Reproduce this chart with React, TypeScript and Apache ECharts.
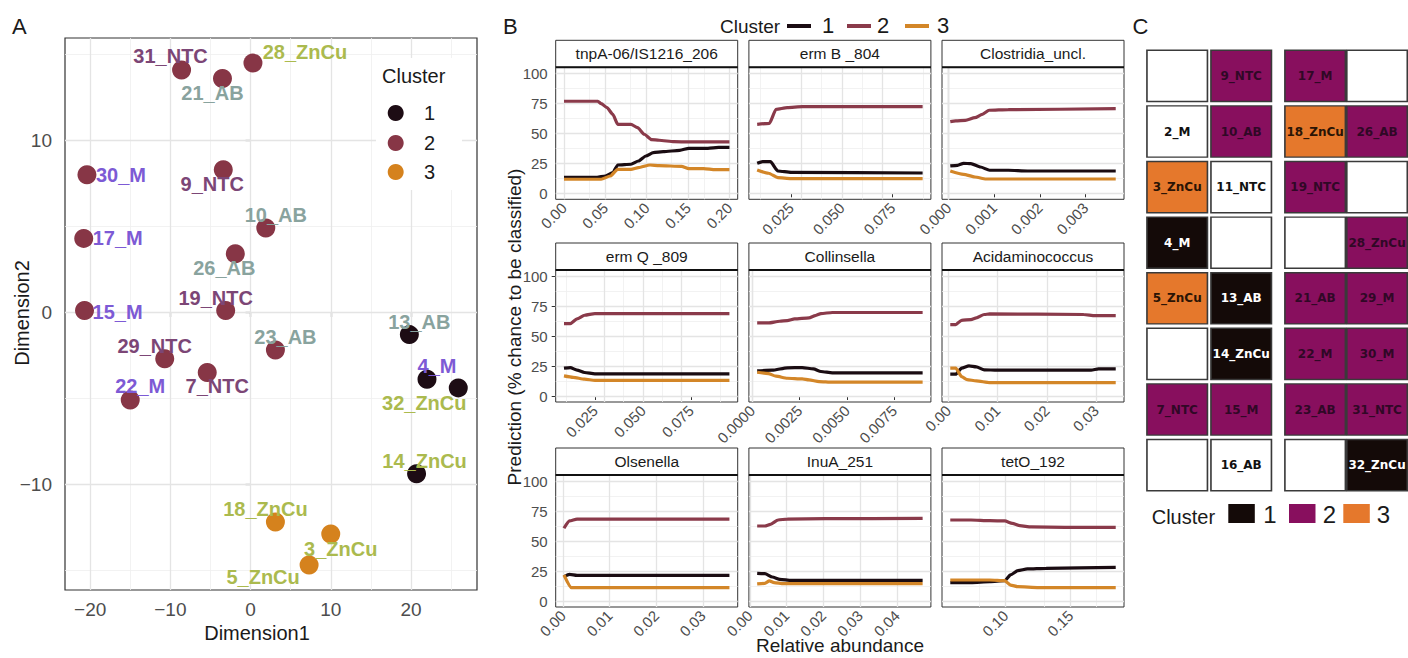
import React, { useEffect, useRef } from "react";
import * as echarts from "echarts";

// ---------------- Panel A data ----------------
const sampleNames = ["31_NTC", "21_AB", "28_ZnCu", "30_M", "9_NTC", "10_AB", "17_M", "26_AB", "15_M", "19_NTC", "13_AB", "23_AB", "29_NTC", "7_NTC", "4_M", "32_ZnCu", "22_M", "14_ZnCu", "18_ZnCu", "3_ZnCu", "5_ZnCu"];
const dim1 = [-8.6, -3.5, 0.3, -20.4, -3.4, 1.9, -20.8, -1.9, -20.7, -3.1, 19.8, 3.1, -10.7, -5.4, 22.0, 25.9, -15.0, 20.7, 3.1, 10.0, 7.3];
const dim2 = [14.1, 13.6, 14.5, 8.0, 8.3, 4.9, 4.3, 3.4, 0.1, 0.1, -1.3, -2.2, -2.7, -3.5, -3.9, -4.4, -5.1, -9.4, -12.2, -12.9, -14.7];
const sampleCluster = [2, 2, 2, 2, 2, 2, 2, 2, 2, 2, 1, 2, 2, 2, 1, 1, 2, 1, 3, 3, 3];
const dimTicksX = ["-20", "-10", "0", "10", "20"];
const dimTicksY = ["-10", "0", "10"];

// ---------------- Panel B data ----------------
const facetNames = ["tnpA-06/IS1216_206", "erm B _804", "Clostridia_uncl.", "erm Q _809", "Collinsella", "Acidaminococcus", "Olsenella", "InuA_251", "tetO_192"];

const tnpA_c1 = [[0, 13.3], [0.04, 13.3], [0.05, 14.4], [0.059, 17.2], [0.065, 23.6], [0.081, 24.2], [0.09, 26.9], [0.099, 31.1], [0.108, 33.9], [0.12, 34.7], [0.14, 35.8], [0.151, 37.5], [0.174, 37.5], [0.187, 38.3], [0.2, 38.3]];
const tnpA_c2 = [[0, 76.7], [0.041, 76.7], [0.045, 74.7], [0.052, 71.4], [0.059, 65.8], [0.065, 57.5], [0.081, 57.5], [0.089, 54.7], [0.097, 49.2], [0.106, 44.7], [0.115, 44.2], [0.133, 43], [0.151, 42.8], [0.2, 42.8]];
const tnpA_c3 = [[0, 11.7], [0.045, 11.7], [0.056, 14.4], [0.065, 20], [0.081, 20], [0.09, 21.4], [0.104, 23.6], [0.115, 23], [0.142, 22.5], [0.151, 20.6], [0.169, 20.6], [0.183, 19.7], [0.2, 19.7]];
const tnpA_ticks = ["0.00", "0.05", "0.10", "0.15", "0.20"];

const ermB_c1 = [[0.0083, 25], [0.011, 26.4], [0.0148, 26.4], [0.0185, 18.6], [0.025, 17.5], [0.0898, 16.9]];
const ermB_c2 = [[0.0083, 57.5], [0.0143, 58.3], [0.0176, 70], [0.0231, 71.4], [0.0306, 72.2], [0.0898, 72.2]];
const ermB_c3 = [[0.0083, 19.4], [0.0139, 16.7], [0.0185, 13], [0.025, 12.2], [0.0898, 12.2]];
const ermB_ticks = ["0.025", "0.050", "0.075"];

const clos_c1 = [[0.00004, 22.8], [0.0002, 23.3], [0.00033, 25], [0.00049, 24.7], [0.0007, 21.9], [0.0009, 19.2], [0.00131, 19.2], [0.00173, 18.6], [0.00366, 18.6]];
const clos_c2 = [[0.00004, 59.7], [0.00016, 60.3], [0.00037, 60.8], [0.00058, 63], [0.00074, 65.8], [0.00089, 69.2], [0.00131, 69.7], [0.00366, 70.6]];
const clos_c3 = [[0.00004, 18.6], [0.00033, 15.8], [0.00058, 13.6], [0.00082, 11.9], [0.00366, 11.9]];
const clos_ticks = ["0.000", "0.001", "0.002", "0.003"];

const ermQ_c1 = [[0.0089, 23.2], [0.0122, 23.7], [0.0157, 21.5], [0.0196, 19.6], [0.025, 18.4], [0.095, 18.4]];
const ermQ_c2 = [[0.0089, 60.3], [0.0122, 60.3], [0.0157, 64.2], [0.0196, 67.3], [0.025, 68.7], [0.095, 68.7]];
const ermQ_c3 = [[0.0089, 16.8], [0.0137, 15.6], [0.0196, 14], [0.025, 13.1], [0.095, 13.1]];
const ermQ_ticks = ["0.025", "0.050", "0.075"];

const coll_c1 = [[0.00026, 20.9], [0.00105, 21.5], [0.00185, 23.5], [0.00264, 23.7], [0.00323, 22.6], [0.00363, 20.4], [0.00423, 19.3], [0.009, 19.3]];
const coll_c2 = [[0.00026, 60.9], [0.00085, 60.9], [0.00145, 62.3], [0.00185, 62.8], [0.00224, 64.2], [0.003, 65.1], [0.00333, 67], [0.00363, 68.7], [0.00423, 69.6], [0.009, 69.6]];
const coll_c3 = [[0.00026, 19.8], [0.00085, 18.7], [0.00125, 16.5], [0.00185, 14.8], [0.00264, 14.2], [0.003, 13.4], [0.00353, 12], [0.00423, 11.5], [0.009, 11.5]];
const coll_ticks = ["0.0000", "0.0025", "0.0050", "0.0075"];

const acid_c1 = [[0.0004, 18.2], [0.0015, 18.2], [0.0027, 23.2], [0.0042, 25.1], [0.0057, 24.3], [0.0073, 21.8], [0.0099, 21.5], [0.029, 21.5], [0.0305, 22.6], [0.034, 22.6]];
const acid_c2 = [[0.0004, 59.5], [0.0015, 59.5], [0.0027, 63.1], [0.0046, 63.7], [0.0057, 65.1], [0.0073, 67.9], [0.0084, 68.4], [0.0275, 67.9], [0.0298, 67], [0.034, 67]];
const acid_c3 = [[0.0004, 23.2], [0.0015, 23.2], [0.0027, 16.2], [0.0038, 13.7], [0.0057, 12.6], [0.0084, 11.2], [0.034, 11.2]];
const acid_ticks = ["0.00", "0.01", "0.02", "0.03"];

const olse_c1 = [[0.0002, 20.3], [0.0014, 22.2], [0.003, 21.4], [0.0357, 21.4]];
const olse_c2 = [[0.0002, 60.6], [0.0014, 66.7], [0.003, 68.3], [0.0357, 68.3]];
const olse_c3 = [[0.0002, 21.7], [0.0018, 11.1], [0.0357, 11.1]];
const olse_ticks = ["0.00", "0.01", "0.02", "0.03"];

const inua_c1 = [[0.002, 23.1], [0.0041, 22.8], [0.0061, 20], [0.0082, 18.1], [0.0113, 17.2], [0.047, 17.2]];
const inua_c2 = [[0.002, 62.5], [0.0041, 62.5], [0.0056, 63.9], [0.0077, 67.5], [0.0102, 68.3], [0.0205, 68.6], [0.047, 68.9]];
const inua_c3 = [[0.002, 14.2], [0.0041, 14.7], [0.0053, 16.7], [0.0066, 15.3], [0.0092, 14.4], [0.047, 14.4]];
const inua_ticks = ["0.00", "0.01", "0.02", "0.03", "0.04"];

const teto_c1 = [[0.0575, 15.3], [0.0734, 15.3], [0.0879, 16.1], [0.0994, 16.9], [0.1038, 21.7], [0.1095, 25.3], [0.1168, 26.7], [0.1312, 27.2], [0.1847, 28.1]];
const teto_c2 = [[0.0575, 67.5], [0.0734, 67.5], [0.0879, 66.9], [0.0994, 66.7], [0.1052, 64.7], [0.111, 62.8], [0.1197, 61.7], [0.1457, 61.4], [0.1847, 61.4]];
const teto_c3 = [[0.0575, 17.5], [0.0879, 17.5], [0.0994, 16.9], [0.1038, 13.3], [0.1095, 11.9], [0.1254, 11.1], [0.1847, 11.1]];
const teto_ticks = ["0.10", "0.15"];

const predTicks = ["0", "25", "50", "75", "100"];
const clusterIds = [1, 2, 3];

// ---------------- Panel C data ----------------
const cellLabels = ["", "2_M", "3_ZnCu", "4_M", "5_ZnCu", "", "7_NTC", "",
  "9_NTC", "10_AB", "11_NTC", "", "13_AB", "14_ZnCu", "15_M", "16_AB",
  "17_M", "18_ZnCu", "19_NTC", "", "21_AB", "22_M", "23_AB", "",
  "", "26_AB", "", "28_ZnCu", "29_M", "30_M", "31_NTC", "32_ZnCu"];
const cellCluster = [0, 0, 3, 1, 3, 0, 2, 0,
  2, 2, 0, 0, 1, 1, 2, 0,
  2, 3, 2, 0, 2, 2, 2, 0,
  0, 2, 0, 2, 2, 2, 2, 1];

// ---------------- styles ----------------
const FONT = "Liberation Sans";
const colA: Record<number, string> = { 1: "#1d0c14", 2: "#873646", 3: "#d5821d" };
const colB: Record<number, string> = { 1: "#1a0c12", 2: "#8a3a4a", 3: "#d38628" };
const colC: Record<number, string> = { 0: "#ffffff", 1: "#140a08", 2: "#880f5e", 3: "#e5782c" };
const txtC: Record<number, string> = { 0: "#111111", 1: "#ffffff", 2: "#300826", 3: "#2a1405" };
const treatColor: Record<string, string> = { NTC: "#7c4676", AB: "#89a39e", ZnCu: "#abba4e", M: "#7d5ad5" };
const labelOffsetA: Record<string, [number, number]> = {
  "31_NTC": [-11, -14], "28_ZnCu": [52, -11], "21_AB": [-10, 14], "30_M": [34, 0], "9_NTC": [-11, 14],
  "10_AB": [10, -13], "17_M": [34, 0], "26_AB": [-11, 14], "19_NTC": [-10, -13], "15_M": [33, 1],
  "13_AB": [10, -13], "23_AB": [10, -13], "29_NTC": [-10, -13], "22_M": [10, -14], "7_NTC": [10, 14],
  "4_M": [10, -13], "32_ZnCu": [-34, 15], "14_ZnCu": [8, -13], "18_ZnCu": [-10, -13], "3_ZnCu": [10, 15],
  "5_ZnCu": [-46, 12],
};

function expand(vals: number[], f = 0.05): [number, number] {
  const a = Math.min(...vals), b = Math.max(...vals);
  const s = b - a;
  return [a - s * f, b + s * f];
}
function minorBreaks(majors: number[], lo: number, hi: number) {
  const d = majors[1] - majors[0];
  const ext = [majors[0] - d, ...majors, majors[majors.length - 1] + d];
  const out: number[] = [];
  for (let i = 0; i < ext.length - 1; i++) {
    const m = (ext[i] + ext[i + 1]) / 2;
    if (m >= lo && m <= hi) out.push(m);
  }
  return out;
}
function closestLabel(labels: string[], v: number) {
  let best = labels[0], bd = Infinity;
  labels.forEach((l) => { const d = Math.abs(Number(l) - v); if (d < bd) { bd = d; best = l; } });
  return best;
}
const minusFmt = (v: number) => (v < 0 ? "\u2212" + Math.abs(v) : String(v));

const majorLine = { color: "#e4e4e4", width: 1.3, type: "solid" };
const minorLine = { color: "#efefef", width: 0.8, type: "solid" };

function gridLineSeries(idx: number, xMaj: number[], xMin: number[], yMaj: number[], yMin: number[]) {
  return {
    type: "line", xAxisIndex: idx, yAxisIndex: idx, data: [], silent: true, z: 1,
    markLine: {
      silent: true, z: 1, symbol: ["none", "none"], label: { show: false }, emphasis: { disabled: true },
      lineStyle: { type: "solid" }, animation: false,
      data: [
        ...xMin.map((v) => ({ xAxis: v, lineStyle: minorLine })),
        ...yMin.map((v) => ({ yAxis: v, lineStyle: minorLine })),
        ...xMaj.map((v) => ({ xAxis: v, lineStyle: majorLine })),
        ...yMaj.map((v) => ({ yAxis: v, lineStyle: majorLine })),
      ],
    },
  };
}

function txt(x: number, y: number, text: string, size: number, opts: any = {}) {
  return {
    type: "text", x, y, z: opts.z ?? 20, rotation: opts.rotation ?? 0,
    style: {
      text, fontSize: size, fontFamily: opts.family ?? FONT, fontWeight: opts.weight ?? "normal",
      fill: opts.fill ?? "#1a1a1a",
      align: opts.align ?? "left", textAlign: opts.align ?? "left",
      verticalAlign: "middle", textVerticalAlign: "middle",
    },
  };
}

function buildOption() {
  const grid: any[] = [];
  const xAxis: any[] = [];
  const yAxis: any[] = [];
  const series: any[] = [];
  const graphic: any[] = [];

  // ===== Panel A =====
  const [axMin, axMax] = expand(dim1);
  const [ayMin, ayMax] = expand(dim2);
  const axMaj = dimTicksX.map(Number), ayMaj = dimTicksY.map(Number);
  grid.push({ left: 65, top: 38, width: 412, height: 552, show: true, backgroundColor: "#fff", borderColor: "#333", borderWidth: 1.2 });
  xAxis.push({
    gridIndex: 0, type: "value", min: axMin, max: axMax,
    axisLine: { show: false }, splitLine: { show: false },
    axisTick: { show: true, customValues: axMaj, length: 5, lineStyle: { color: "#333", width: 1.2 } },
    axisLabel: { customValues: axMaj, fontSize: 19, color: "#4d4d4d", margin: 10, fontFamily: FONT, formatter: minusFmt },
  });
  yAxis.push({
    gridIndex: 0, type: "value", min: ayMin, max: ayMax,
    axisLine: { show: false }, splitLine: { show: false },
    axisTick: { show: true, customValues: ayMaj, length: 5, lineStyle: { color: "#333", width: 1.2 } },
    axisLabel: { customValues: ayMaj, fontSize: 19, color: "#4d4d4d", margin: 13, fontFamily: FONT, formatter: minusFmt },
  });
  series.push(gridLineSeries(0, axMaj, minorBreaks(axMaj, axMin, axMax), ayMaj, minorBreaks(ayMaj, ayMin, ayMax)));
  series.push({
    type: "scatter", xAxisIndex: 0, yAxisIndex: 0, symbolSize: 19, z: 3,
    emphasis: { disabled: true },
    itemStyle: { opacity: 1 },
    label: { show: true, position: "inside", formatter: "{b}", fontSize: 20, fontWeight: "bold", fontFamily: FONT },
    data: sampleNames.map((n, i) => ({
      name: n, value: [dim1[i], dim2[i]],
      itemStyle: { color: colA[sampleCluster[i]], opacity: 1 },
      label: { color: treatColor[n.split("_")[1]], offset: labelOffsetA[n] },
    })),
  });
  // legend A
  graphic.push({ type: "rect", z: 15, shape: { x: 376, y: 58, width: 86, height: 132 }, style: { fill: "#fff" } });
  graphic.push(txt(382, 76, "Cluster", 20));
  const legY = [113, 143, 172];
  clusterIds.forEach((c, i) => {
    graphic.push({ type: "circle", z: 20, shape: { cx: 395.7, cy: legY[i], r: 8 }, style: { fill: colA[c] } });
    graphic.push(txt(424, legY[i], String(c), 20));
  });
  graphic.push(txt(257, 633, "Dimension1", 20, { align: "center" }));
  graphic.push(txt(22, 313, "Dimension2", 20, { align: "center", rotation: Math.PI / 2 }));
  graphic.push(txt(12, 26, "A", 22));

  // ===== Panel B =====
  const facets = [
    [tnpA_c1, tnpA_c2, tnpA_c3, tnpA_ticks], [ermB_c1, ermB_c2, ermB_c3, ermB_ticks], [clos_c1, clos_c2, clos_c3, clos_ticks],
    [ermQ_c1, ermQ_c2, ermQ_c3, ermQ_ticks], [coll_c1, coll_c2, coll_c3, coll_ticks], [acid_c1, acid_c2, acid_c3, acid_ticks],
    [olse_c1, olse_c2, olse_c3, olse_ticks], [inua_c1, inua_c2, inua_c3, inua_ticks], [teto_c1, teto_c2, teto_c3, teto_ticks],
  ] as any[];
  const colLeft = [555.7, 748.9, 942];
  const rowTop = [67.3, 270, 475];
  const FW = 182, FH = 132, SH = 27;
  const yMaj = predTicks.map(Number);
  const yMin = minorBreaks(yMaj, -5, 105);
  facets.forEach((f, i) => {
    const gi = i + 1;
    const col = i % 3, row = Math.floor(i / 3);
    const left = colLeft[col], top = rowTop[row];
    const ticks: string[] = f[3];
    grid.push({ left, top, width: FW, height: FH, show: true, backgroundColor: "#fff", borderColor: "#333", borderWidth: 1 });
    const xs = [...f[0], ...f[1], ...f[2]].map((p: number[]) => p[0]);
    const [xmin, xmax] = expand(xs);
    const tv = ticks.map(Number);
    const maj = tv.filter((v) => v >= xmin && v <= xmax);
    xAxis.push({
      gridIndex: gi, type: "value", min: xmin, max: xmax,
      axisLine: { show: false }, splitLine: { show: false },
      axisTick: { show: true, customValues: maj, length: 4, lineStyle: { color: "#333", width: 1 } },
      axisLabel: { customValues: maj, rotate: 45, fontSize: 15, color: "#4d4d4d", margin: 6, fontFamily: FONT, formatter: (v: number) => closestLabel(ticks, v) },
    });
    yAxis.push({
      gridIndex: gi, type: "value", min: -5, max: 105,
      axisLine: { show: false }, splitLine: { show: false },
      axisTick: { show: col === 0, customValues: yMaj, length: 4, lineStyle: { color: "#333", width: 1 } },
      axisLabel: { show: col === 0, customValues: yMaj, fontSize: 15, color: "#4d4d4d", margin: 8, fontFamily: FONT, formatter: (v: number) => closestLabel(predTicks, v) },
    });
    series.push(gridLineSeries(gi, maj, minorBreaks(tv, xmin, xmax), yMaj, yMin));
    clusterIds.forEach((c, k) => {
      series.push({
        type: "line", xAxisIndex: gi, yAxisIndex: gi, data: f[k], z: 3 + k,
        symbol: "none", showSymbol: false, smooth: 0.2, smoothMonotone: "x",
        lineStyle: { color: colB[c], width: 3.2 }, emphasis: { disabled: true }, silent: true,
      });
    });
    // strip
    graphic.push({ type: "rect", z: 15, shape: { x: left, y: top - SH, width: FW, height: SH }, style: { fill: "#fff", stroke: "#333", lineWidth: 1 } });
    graphic.push({ type: "line", z: 16, shape: { x1: left, y1: top, x2: left + FW, y2: top }, style: { stroke: "#111", lineWidth: 2 } });
    graphic.push(txt(left + FW / 2, top - SH / 2, facetNames[i], 15.5, { align: "center" }));
  });
  // legend B
  graphic.push(txt(720, 26, "Cluster", 19));
  const lineX = [787, 847, 905];
  const numX = [822, 877, 937];
  clusterIds.forEach((c, i) => {
    graphic.push({ type: "line", z: 20, shape: { x1: lineX[i], y1: 26, x2: lineX[i] + 24, y2: 26 }, style: { stroke: colB[c], lineWidth: 4 } });
    graphic.push(txt(numX[i], 25, String(c), 22));
  });
  graphic.push(txt(514, 327, "Prediction (% chance to be classified)", 19, { align: "center", rotation: Math.PI / 2 }));
  graphic.push(txt(840, 645, "Relative abundance", 19, { align: "center" }));
  graphic.push(txt(503, 26, "B", 22));

  // ===== Panel C =====
  const cTop = 48.1, cH = 444.8;
  const blockLeft = [1145.2, 1284.2];
  const blockW = [128, 128.6];
  [0, 1].forEach((b) => {
    const gi = 10 + b;
    grid.push({ left: blockLeft[b], top: cTop, width: blockW[b], height: cH });
    xAxis.push({ gridIndex: gi, type: "category", data: ["a", "b"], show: false });
    yAxis.push({ gridIndex: gi, type: "category", data: ["1", "2", "3", "4", "5", "6", "7", "8"], inverse: true, show: false });
    const data: any[] = [];
    cellLabels.forEach((lab, k) => {
      const colAll = Math.floor(k / 8), r = k % 8;
      if ((colAll < 2 ? 0 : 1) !== b) return;
      const cl = cellCluster[k];
      data.push({
        name: lab, value: [colAll % 2, r],
        itemStyle: { color: colC[cl], opacity: 1 },
        label: { color: txtC[cl] },
      });
    });
    series.push({
      type: "scatter", xAxisIndex: gi, yAxisIndex: gi, symbol: "rect", symbolSize: [60.5, 51.2], z: 3,
      itemStyle: { borderColor: "#3a3a3a", borderWidth: 1.5, opacity: 1 }, emphasis: { disabled: true }, silent: true,
      label: { show: true, position: "inside", formatter: "{b}", fontSize: 12, fontWeight: "bold", fontFamily: "DejaVu Sans" },
      data,
    });
  });
  graphic.push(txt(1151.7, 516.5, "Cluster", 20));
  const sqX = [1228.3, 1289, 1343.3];
  const sqNum = [1263.3, 1322.7, 1376.7];
  clusterIds.forEach((c, i) => {
    graphic.push({ type: "rect", z: 20, shape: { x: sqX[i], y: 504, width: 26.5, height: 19 }, style: { fill: colC[c] } });
    graphic.push(txt(sqNum[i], 514, String(c), 24));
  });
  graphic.push(txt(1132.5, 26, "C", 22));

  return {
    animation: false,
    backgroundColor: "#fff",
    textStyle: { fontFamily: FONT },
    grid, xAxis, yAxis, series, graphic,
  };
}

export default function App() {
  const ref = useRef<HTMLDivElement>(null);
  useEffect(() => {
    document.body.style.margin = "0";
    const chart = echarts.init(ref.current!, undefined, { renderer: "svg" });
    chart.setOption(buildOption() as any);
    return () => chart.dispose();
  }, []);
  return <div ref={ref} style={{ width: 1408, height: 658, background: "#fff" }} />;
}
